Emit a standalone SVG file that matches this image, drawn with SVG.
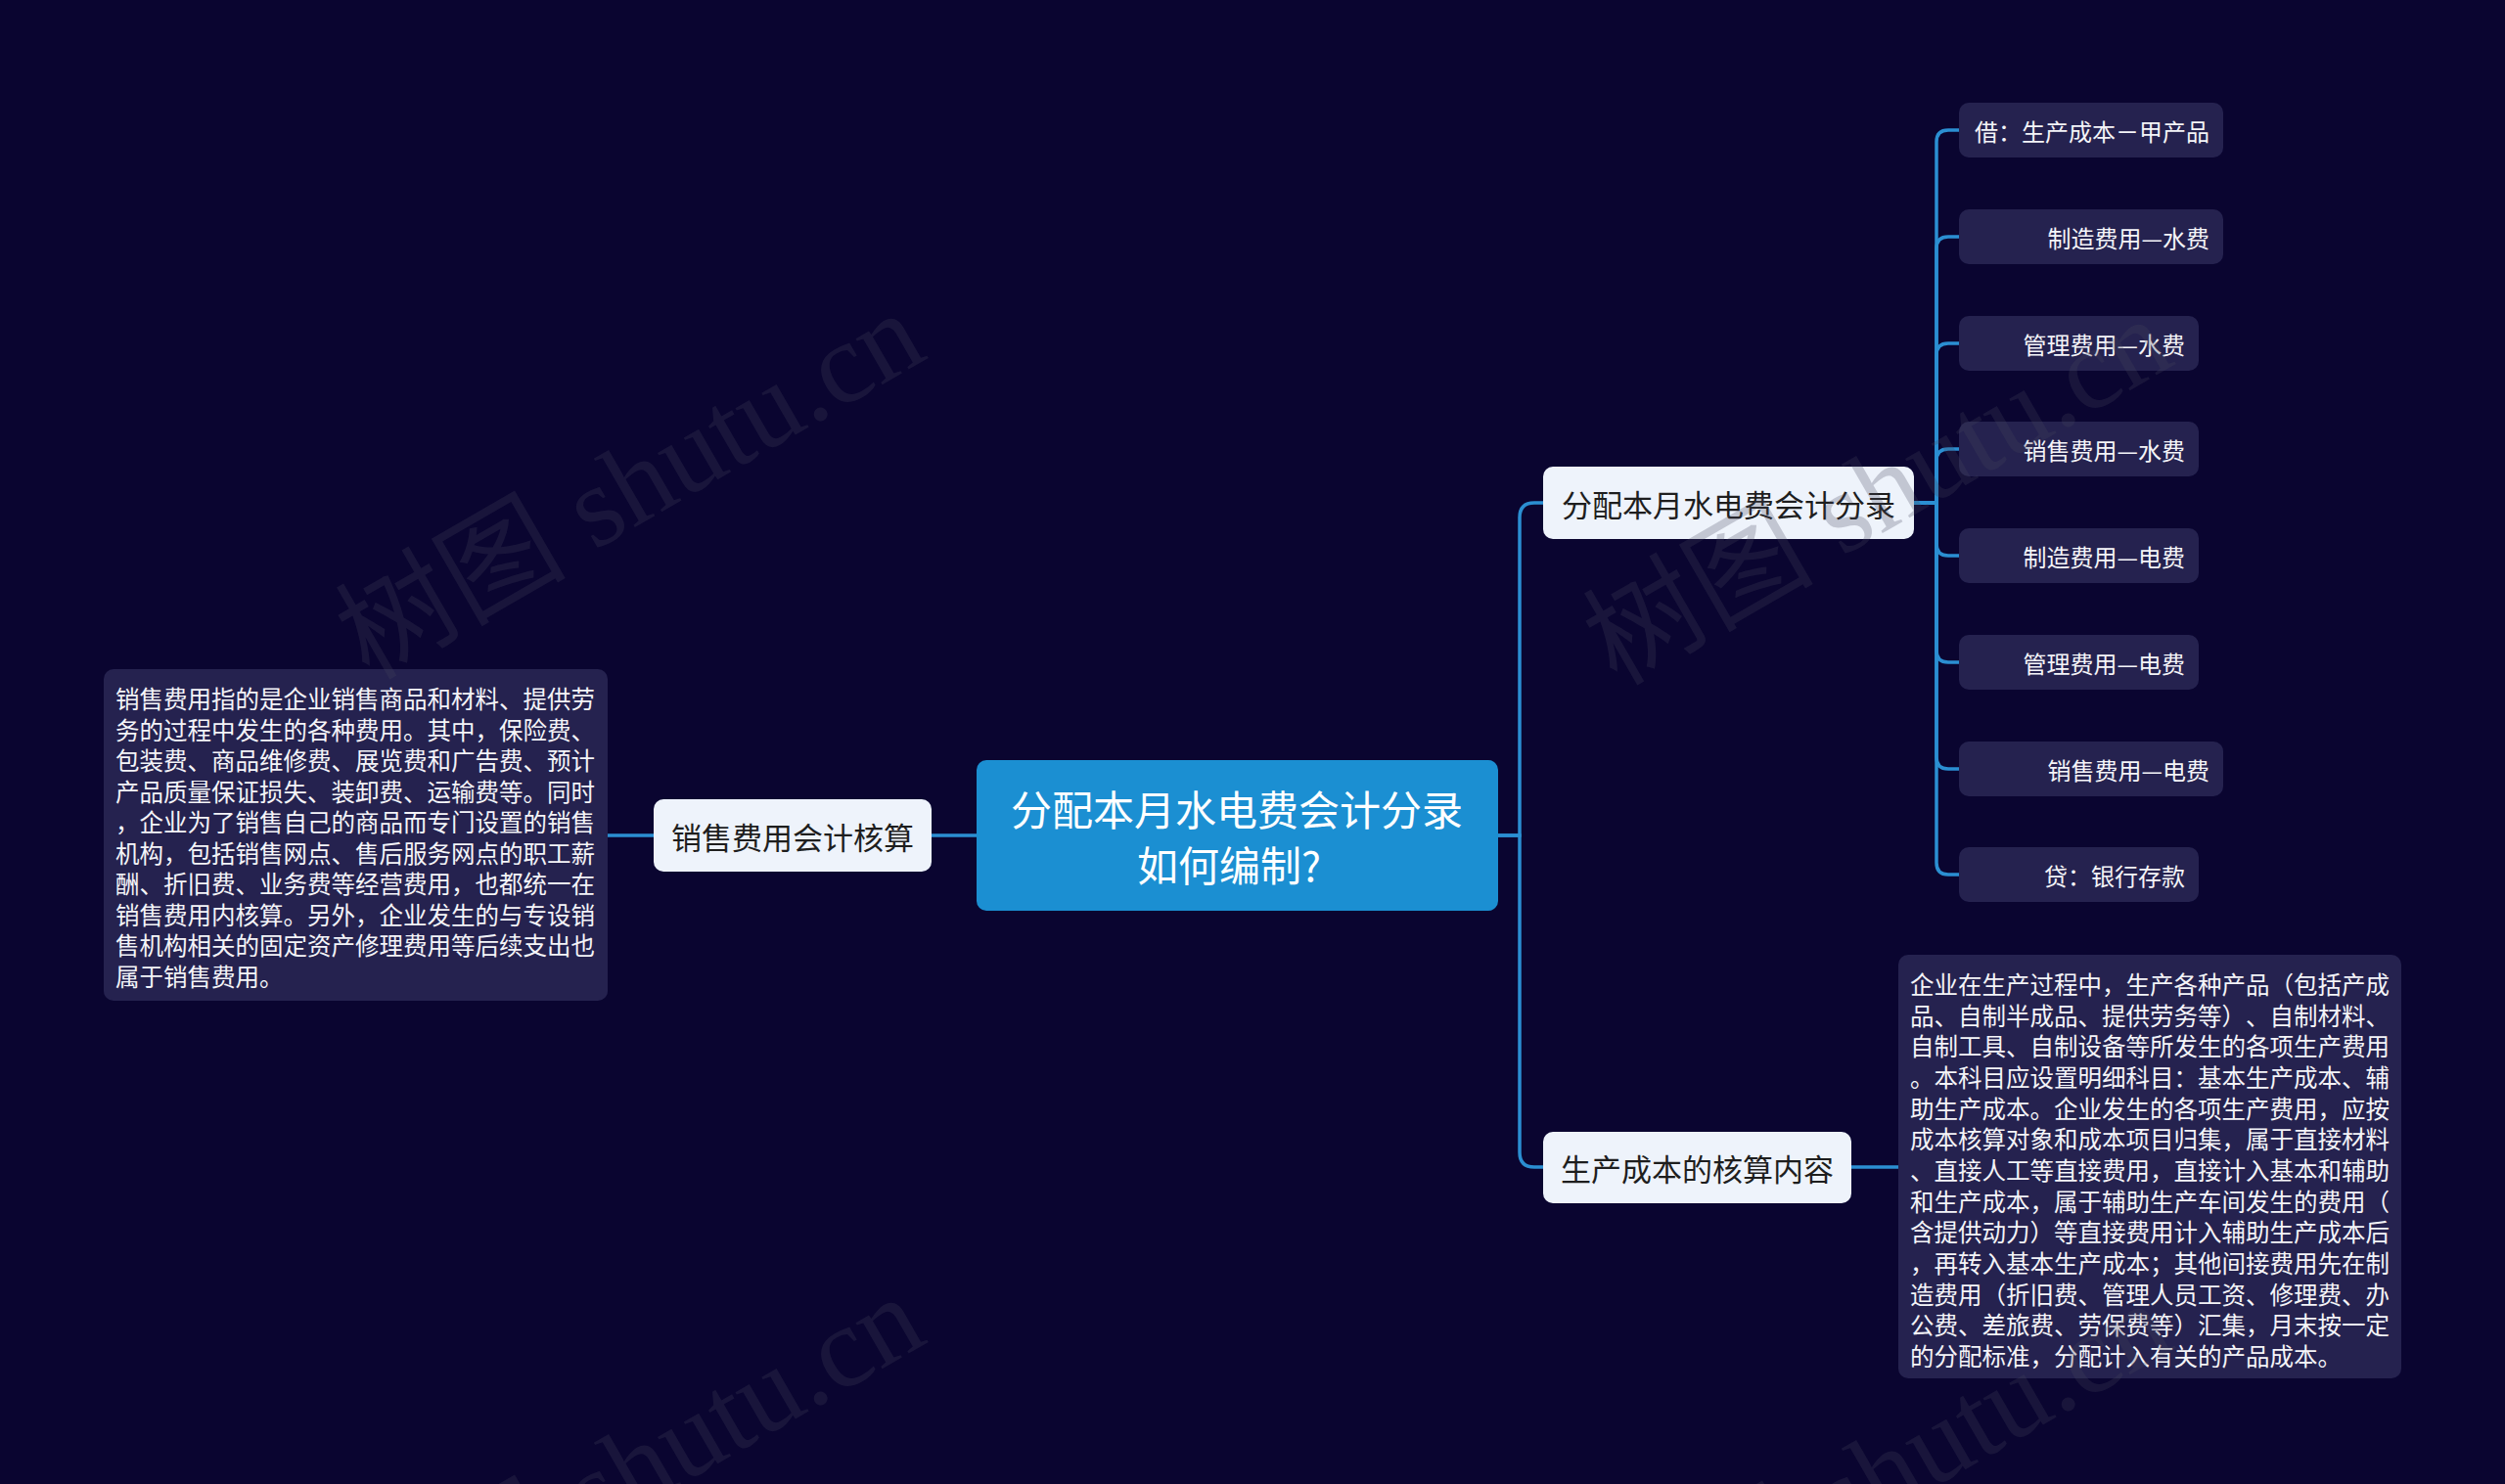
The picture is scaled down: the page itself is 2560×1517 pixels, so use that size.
<svg xmlns="http://www.w3.org/2000/svg" width="2560" height="1517" viewBox="0 0 2560 1517">
<style>
text{font-family:"Noto Sans CJK SC","Liberation Sans",sans-serif;text-spacing-trim:space-all;}
.bg{fill:#0a0530;}
.root{fill:#1b8fd2;}
.rootT{fill:#ffffff;font-size:42px;}
.sub{fill:#eef3fb;}
.subT{fill:#1e1e1e;font-size:31px;}
.dark{fill:#25224f;}
.leafT{fill:#f4f4f8;font-size:24px;}
.para{fill:#f4f4f8;font-size:24.5px;}
.link{fill:none;stroke:#2b8fd2;stroke-width:3.5;}
.wm{font-family:"Liberation Serif","Noto Sans CJK SC",serif;font-size:118px;fill:#45455e;fill-opacity:0.26;}
</style>
<rect class="bg" x="0" y="0" width="2560" height="1517"/>

<g id="connectors">
<path class="link" d="M998,854 H952"/>
<path class="link" d="M668,854 H621"/>
<path class="link" d="M1531,854 H1553 V529 Q1553,514 1568,514 H1577"/>
<path class="link" d="M1531,854 H1553 V1178 Q1553,1193 1568,1193 H1577"/>
<path class="link" d="M1892,1193 H1940"/>
<path class="link" d="M1956,514 H1979 V145 Q1979,133 1991,133 H2002"/>
<path class="link" d="M1956,514 H1979 V254 Q1979,242 1991,242 H2002"/>
<path class="link" d="M1956,514 H1979 V363 Q1979,351 1991,351 H2002"/>
<path class="link" d="M1956,514 H1979 V471 Q1979,459 1991,459 H2002"/>
<path class="link" d="M1956,514 H1979 V556 Q1979,568 1991,568 H2002"/>
<path class="link" d="M1956,514 H1979 V665 Q1979,677 1991,677 H2002"/>
<path class="link" d="M1956,514 H1979 V774 Q1979,786 1991,786 H2002"/>
<path class="link" d="M1956,514 H1979 V882 Q1979,894 1991,894 H2002"/>
</g>

<g id="root">
<rect class="root" x="998" y="777" width="533" height="154" rx="10"/>
<text class="rootT" x="1264" y="825" text-anchor="middle" dominant-baseline="central">分配本月水电费会计分录</text>
<text class="rootT" x="1256" y="882" text-anchor="middle" dominant-baseline="central">如何编制?</text>
</g>

<g id="node-sales">
<rect class="sub" x="668" y="817" width="284" height="74" rx="10"/>
<text class="subT" x="810" y="854" text-anchor="middle" dominant-baseline="central">销售费用会计核算</text>
</g>

<g id="note-sales">
<rect class="dark" x="106" y="684" width="515" height="339" rx="10"/>
<text class="para" x="118" dominant-baseline="central">
<tspan x="118" y="713">销售费用指的是企业销售商品和材料、提供劳</tspan>
<tspan x="118" y="744.6">务的过程中发生的各种费用。其中，保险费、</tspan>
<tspan x="118" y="776.1">包装费、商品维修费、展览费和广告费、预计</tspan>
<tspan x="118" y="807.7">产品质量保证损失、装卸费、运输费等。同时</tspan>
<tspan x="118" y="839.2">，企业为了销售自己的商品而专门设置的销售</tspan>
<tspan x="118" y="870.8">机构，包括销售网点、售后服务网点的职工薪</tspan>
<tspan x="118" y="902.3">酬、折旧费、业务费等经营费用，也都统一在</tspan>
<tspan x="118" y="933.9">销售费用内核算。另外，企业发生的与专设销</tspan>
<tspan x="118" y="965.4">售机构相关的固定资产修理费用等后续支出也</tspan>
<tspan x="118" y="997">属于销售费用。</tspan>
</text>
</g>

<g id="node-entry">
<rect class="sub" x="1577" y="477" width="379" height="74" rx="10"/>
<text class="subT" x="1766.5" y="514" text-anchor="middle" dominant-baseline="central">分配本月水电费会计分录</text>
</g>

<g id="node-cost">
<rect class="sub" x="1577" y="1157" width="315" height="73" rx="10"/>
<text class="subT" x="1734.5" y="1193.5" text-anchor="middle" dominant-baseline="central">生产成本的核算内容</text>
</g>

<g id="note-cost">
<rect class="dark" x="1940" y="976" width="514" height="433" rx="10"/>
<text class="para" x="1952" dominant-baseline="central">
<tspan x="1952" y="1005">企业在生产过程中，生产各种产品（包括产成</tspan>
<tspan x="1952" y="1036.7">品、自制半成品、提供劳务等）、自制材料、</tspan>
<tspan x="1952" y="1068.3">自制工具、自制设备等所发生的各项生产费用</tspan>
<tspan x="1952" y="1100">。本科目应设置明细科目：基本生产成本、辅</tspan>
<tspan x="1952" y="1131.7">助生产成本。企业发生的各项生产费用，应按</tspan>
<tspan x="1952" y="1163.3">成本核算对象和成本项目归集，属于直接材料</tspan>
<tspan x="1952" y="1195">、直接人工等直接费用，直接计入基本和辅助</tspan>
<tspan x="1952" y="1226.7">和生产成本，属于辅助生产车间发生的费用（</tspan>
<tspan x="1952" y="1258.3">含提供动力）等直接费用计入辅助生产成本后</tspan>
<tspan x="1952" y="1290">，再转入基本生产成本；其他间接费用先在制</tspan>
<tspan x="1952" y="1321.7">造费用（折旧费、管理人员工资、修理费、办</tspan>
<tspan x="1952" y="1353.3">公费、差旅费、劳保费等）汇集，月末按一定</tspan>
<tspan x="1952" y="1385">的分配标准，分配计入有关的产品成本。</tspan>
</text>
</g>

<g id="leaf-1">
<rect class="dark" x="2002" y="105" width="270" height="56" rx="10"/>
<text class="leafT" x="2258" y="133" text-anchor="end" dominant-baseline="central">借：生产成本－甲产品</text>
</g>
<g id="leaf-2">
<rect class="dark" x="2002" y="214" width="270" height="56" rx="10"/>
<text class="leafT" x="2258" y="242" text-anchor="end" dominant-baseline="central">制造费用—水费</text>
</g>
<g id="leaf-3">
<rect class="dark" x="2002" y="323" width="245" height="56" rx="10"/>
<text class="leafT" x="2233" y="351" text-anchor="end" dominant-baseline="central">管理费用—水费</text>
</g>
<g id="leaf-4">
<rect class="dark" x="2002" y="431" width="245" height="56" rx="10"/>
<text class="leafT" x="2233" y="459" text-anchor="end" dominant-baseline="central">销售费用—水费</text>
</g>
<g id="leaf-5">
<rect class="dark" x="2002" y="540" width="245" height="56" rx="10"/>
<text class="leafT" x="2233" y="568" text-anchor="end" dominant-baseline="central">制造费用—电费</text>
</g>
<g id="leaf-6">
<rect class="dark" x="2002" y="649" width="245" height="56" rx="10"/>
<text class="leafT" x="2233" y="677" text-anchor="end" dominant-baseline="central">管理费用—电费</text>
</g>
<g id="leaf-7">
<rect class="dark" x="2002" y="758" width="270" height="56" rx="10"/>
<text class="leafT" x="2258" y="786" text-anchor="end" dominant-baseline="central">销售费用—电费</text>
</g>
<g id="leaf-8">
<rect class="dark" x="2002" y="866" width="245" height="56" rx="10"/>
<text class="leafT" x="2233" y="894" text-anchor="end" dominant-baseline="central">贷：银行存款</text>
</g>

<g id="watermarks">
<text class="wm" transform="translate(377,696) rotate(-30)">树图 shutu.cn</text>
<text class="wm" transform="translate(1652,702) rotate(-30)">树图 shutu.cn</text>
<text class="wm" transform="translate(377,1702) rotate(-30)">树图 shutu.cn</text>
<text class="wm" transform="translate(1652,1708) rotate(-30)">树图 shutu.cn</text>
</g>
</svg>
